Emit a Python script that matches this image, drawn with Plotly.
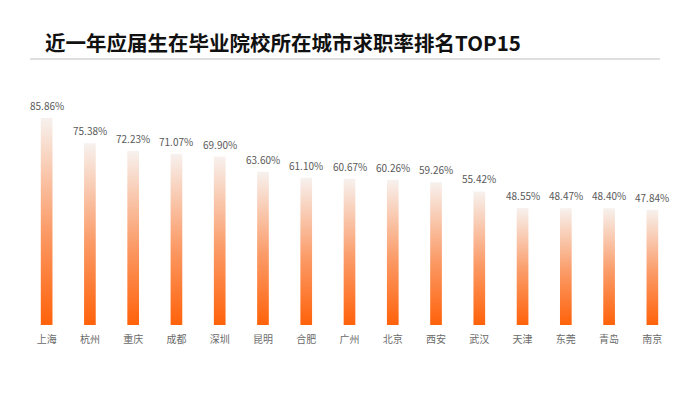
import plotly.graph_objects as go

cities = ["上海", "杭州", "重庆", "成都", "深圳", "昆明", "合肥", "广州",
          "北京", "西安", "武汉", "天津", "东莞", "青岛", "南京"]
rates = [85.86, 75.38, 72.23, 71.07, 69.90, 63.60, 61.10, 60.67,
         60.26, 59.26, 55.42, 48.55, 48.47, 48.40, 47.84]
title_text = "近一年应届生在毕业院校所在城市求职率排名TOP15"

W, H = 700, 393
L, R, T, B = 25, 26, 84, 68
pw, ph = W - L - R, H - T - B

half_w = 0.135
fig = go.Figure()
for i, v in enumerate(rates):
    fig.add_trace(go.Scatter(
        x=[i - half_w, i + half_w, i + half_w, i - half_w, i - half_w],
        y=[0, 0, v, v, 0],
        mode="lines", fill="toself", line=dict(width=0),
        fillgradient=dict(type="vertical",
                          colorscale=[[0, "#FF620A"], [0.45, "#FB9A66"], [1, "#F7F1EE"]]),
        hoverinfo="skip", showlegend=False,
    ))

annots = [dict(x=i, y=v, xref="x", yref="y", text=f"{v:.2f}%", showarrow=False,
               yanchor="bottom", yshift=3,
               font=dict(size=10, color="#595959", family="Noto Sans CJK SC"))
          for i, v in enumerate(rates)]
annots.append(dict(text=f"<b>{title_text}</b>", xref="paper", yref="paper",
                   x=(43 - L) / pw, y=(H - 42 - B) / ph, xanchor="left", yanchor="middle",
                   showarrow=False, font=dict(size=20.5, color="#111111", family="Noto Sans CJK SC")))

fig.update_layout(
    width=W, height=H,
    paper_bgcolor="white", plot_bgcolor="white",
    margin=dict(l=L, r=R, t=T, b=B),
    font=dict(family="Noto Sans CJK SC"),
    xaxis=dict(range=[-0.5, len(rates) - 0.5], tickvals=list(range(len(rates))),
               ticktext=cities, showgrid=False, zeroline=False, showline=False,
               ticks="", ticklabelstandoff=7, tickfont=dict(size=10, color="#6a6a6a")),
    yaxis=dict(range=[0, 100], visible=False, showgrid=False, zeroline=False),
    annotations=annots,
    shapes=[dict(type="line", xref="paper", yref="paper",
                 x0=(30 - L) / pw, x1=(660 - L) / pw,
                 y0=(H - 59 - B) / ph, y1=(H - 59 - B) / ph,
                 line=dict(color="#BFBFBF", width=1))],
)
fig.write_html("out.html", config={"displayModeBar": False},
               post_script="document.body.style.margin='0';")
